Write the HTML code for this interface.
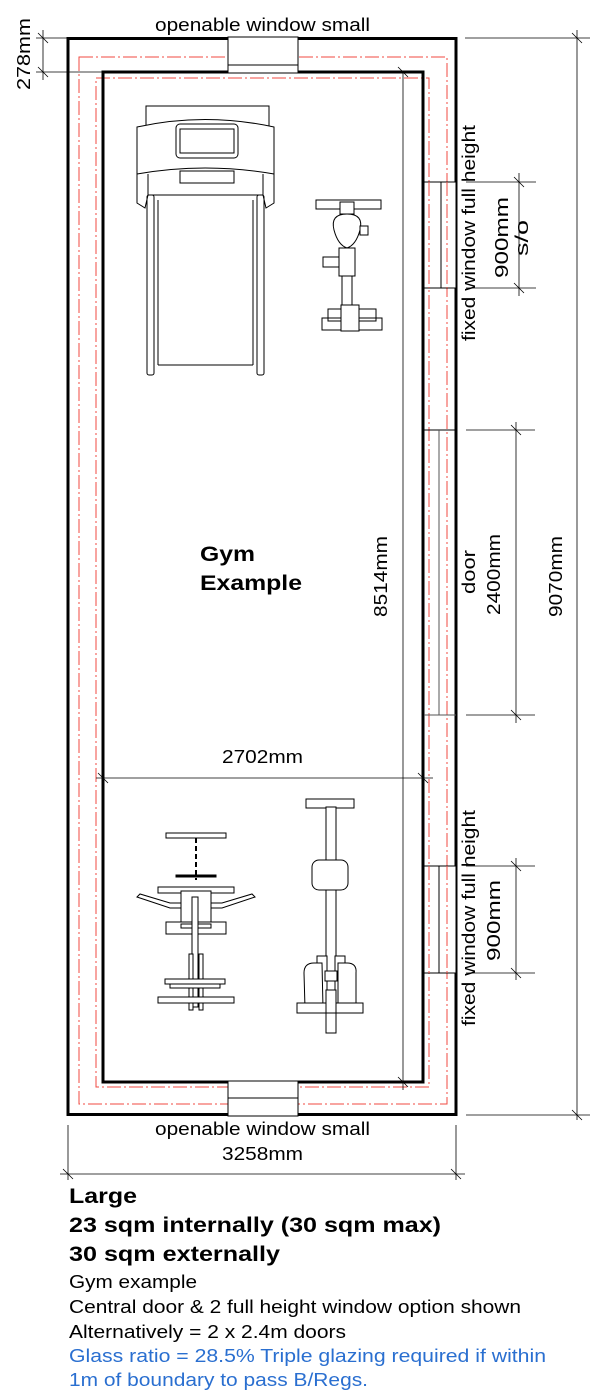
<!DOCTYPE html>
<html><head><meta charset="utf-8"><style>
html,body{margin:0;padding:0;background:#fff;}
svg{display:block;font-family:"Liberation Sans",Arial,sans-serif;}
</style></head><body>
<svg width="612" height="1396" viewBox="0 0 612 1396" xmlns="http://www.w3.org/2000/svg">
<rect width="612" height="1396" fill="#fff"/>
<g fill="none" stroke="#f04a42" stroke-width="1" stroke-dasharray="14,3,2,3">
<rect x="79" y="57" width="368" height="1047"/>
<rect x="96" y="78" width="333" height="1009"/>
</g>
<rect x="68" y="38.5" width="388" height="1076" fill="none" stroke="#000" stroke-width="3"/>
<rect x="103" y="72" width="320" height="1010" fill="none" stroke="#000" stroke-width="3"/>
<rect x="228" y="37" width="70" height="36" fill="#fff" stroke="#000" stroke-width="1"/>
<line x1="228" y1="65" x2="298" y2="65" stroke="#000"/>
<rect x="228" y="1081" width="70" height="35" fill="#fff" stroke="#000" stroke-width="1"/>
<line x1="228" y1="1098" x2="298" y2="1098" stroke="#000"/>
<rect x="424" y="182" width="32" height="106" fill="#fff" stroke="#000" stroke-width="1"/>
<line x1="441" y1="182" x2="441" y2="288" stroke="#000"/>
<line x1="429" y1="182" x2="429" y2="288" stroke="#f04a42" stroke-dasharray="14,3,2,3"/>
<line x1="447" y1="182" x2="447" y2="288" stroke="#f04a42" stroke-dasharray="14,3,2,3"/>
<rect x="424" y="866" width="32" height="107" fill="#fff" stroke="#000" stroke-width="1"/>
<line x1="439" y1="866" x2="439" y2="973" stroke="#000"/>
<line x1="429" y1="866" x2="429" y2="973" stroke="#f04a42" stroke-dasharray="14,3,2,3"/>
<line x1="447" y1="866" x2="447" y2="973" stroke="#f04a42" stroke-dasharray="14,3,2,3"/>
<line x1="424" y1="430" x2="456" y2="430" stroke="#000"/>
<line x1="424" y1="715" x2="456" y2="715" stroke="#555"/>
<line x1="439" y1="430" x2="439" y2="715" stroke="#555"/>
<g stroke="#000" stroke-width="0.8" fill="none">
<line x1="36" y1="38" x2="68" y2="38"/><line x1="36" y1="72" x2="103" y2="72"/>
<line x1="43" y1="30" x2="43" y2="80"/>
<line x1="38" y1="33" x2="48" y2="43"/><line x1="38" y1="67" x2="48" y2="77"/>
<line x1="465" y1="38" x2="590" y2="38"/><line x1="466" y1="1115" x2="590" y2="1115"/>
<line x1="577" y1="30" x2="577" y2="1120"/>
<line x1="572" y1="33" x2="582" y2="43"/><line x1="572" y1="1110" x2="582" y2="1120"/>
<line x1="466" y1="182" x2="536" y2="182"/><line x1="466" y1="288" x2="536" y2="288"/>
<line x1="519" y1="173" x2="519" y2="296"/>
<line x1="514" y1="177" x2="524" y2="187"/><line x1="514" y1="283" x2="524" y2="293"/>
<line x1="466" y1="430" x2="535" y2="430"/><line x1="466" y1="715" x2="535" y2="715"/>
<line x1="516" y1="422" x2="516" y2="723"/>
<line x1="511" y1="425" x2="521" y2="435"/><line x1="511" y1="710" x2="521" y2="720"/>
<line x1="466" y1="866" x2="535" y2="866"/><line x1="466" y1="973" x2="535" y2="973"/>
<line x1="516" y1="858" x2="516" y2="980"/>
<line x1="511" y1="861" x2="521" y2="871"/><line x1="511" y1="968" x2="521" y2="978"/>
<line x1="403" y1="72" x2="403" y2="1090"/>
<line x1="398" y1="67" x2="408" y2="77"/><line x1="398" y1="1077" x2="408" y2="1087"/>
<line x1="96" y1="778" x2="433" y2="778"/>
<line x1="98" y1="773" x2="108" y2="783"/><line x1="418" y1="773" x2="428" y2="783"/>
<line x1="68" y1="1125" x2="68" y2="1180"/><line x1="456" y1="1125" x2="456" y2="1180"/>
<line x1="60" y1="1174" x2="465" y2="1174"/>
<line x1="63" y1="1169" x2="73" y2="1179"/><line x1="451" y1="1169" x2="461" y2="1179"/>
</g>
<g stroke="#000" stroke-width="1" fill="none">
<rect x="146" y="106" width="123" height="20"/>
<path d="M137 127 Q205 112 274 127 L274 174 Q205 162 137 174 Z" fill="#fff"/>
<rect x="176" y="124" width="62" height="34" rx="4"/>
<rect x="180" y="129" width="54" height="24"/>
<rect x="180" y="171" width="54" height="12"/>
<path d="M137 174 L137 203 L145 208 L148 195 L148 174"/>
<path d="M274 174 L274 203 L266 208 L263 195 L263 174"/>
<line x1="148" y1="195" x2="263" y2="195"/>
<rect x="147" y="195" width="7" height="180" rx="2"/>
<rect x="257" y="195" width="7" height="180" rx="2"/>
<line x1="158" y1="200" x2="158" y2="365"/><line x1="253" y1="200" x2="253" y2="365"/>
<line x1="158" y1="365" x2="253" y2="365"/>
</g>
<g stroke="#000" stroke-width="1" fill="#fff">
<rect x="316" y="200" width="65" height="9"/>
<rect x="340" y="202" width="14" height="12"/>
<path d="M347 214 Q330 214 334 230 Q338 245 347 248 Q356 245 360 230 Q364 214 347 214Z"/>
<rect x="360" y="226" width="8" height="9"/>
<rect x="323" y="257" width="16" height="10"/>
<rect x="339" y="248" width="16" height="28"/>
<rect x="342" y="276" width="10" height="30" fill="none"/>
<rect x="322" y="318" width="60" height="12" fill="none"/>
<rect x="328" y="309" width="48" height="12" fill="none"/>
<rect x="341" y="305" width="18" height="26"/>
</g>
<g stroke="#000" stroke-width="1" fill="#fff">
<rect x="166" y="833" width="60" height="5"/>
<line x1="196" y1="838" x2="196" y2="880" stroke-dasharray="5,3" stroke-width="2"/>
<rect x="176" y="875" width="40" height="2" fill="#000"/>
<rect x="158" y="887" width="76" height="6"/>
<path d="M137 897 L140 894 L170 903 L222 903 L252 894 L255 897 L222 908 L170 908 Z"/>
<rect x="181" y="891" width="30" height="36"/>
<rect x="166" y="922" width="60" height="12"/>
<rect x="181" y="924" width="30" height="4"/>
<rect x="192" y="897" width="6" height="110"/>
<rect x="189" y="954" width="4" height="56"/><rect x="199" y="954" width="4" height="56"/>
<rect x="165" y="979" width="60" height="5"/>
<rect x="170" y="984" width="50" height="4"/>
<rect x="158" y="997" width="76" height="6"/>
</g>
<g stroke="#000" stroke-width="1" fill="#fff">
<rect x="306" y="799" width="48" height="9"/>
<rect x="326" y="807" width="10" height="226"/>
<rect x="312" y="860" width="36" height="30" rx="7"/>
<rect x="317" y="956" width="10" height="50"/><rect x="335" y="956" width="10" height="50"/>
<path d="M304 973 Q304 963 314 963 L322 963 L323 1008 L305 1008 Z"/>
<path d="M338 963 L347 963 Q357 963 356 973 L356 1008 L338 1008 Z"/>
<rect x="325" y="971" width="12" height="10"/>
<rect x="297" y="1003" width="66" height="10"/>
<rect x="326" y="990" width="10" height="23"/>
</g>
<g font-size="18" fill="#000" lengthAdjust="spacingAndGlyphs">
<text x="155" y="31" textLength="215" lengthAdjust="spacingAndGlyphs">openable window small</text>
<text x="155" y="1135" textLength="215" lengthAdjust="spacingAndGlyphs">openable window small</text>
<text x="222" y="1160" textLength="81" lengthAdjust="spacingAndGlyphs">3258mm</text>
<text x="222" y="763" textLength="81" lengthAdjust="spacingAndGlyphs">2702mm</text>
<text transform="translate(30,90) rotate(-90)" textLength="72" lengthAdjust="spacingAndGlyphs">278mm</text>
<text transform="translate(475,341) rotate(-90)" textLength="216" lengthAdjust="spacingAndGlyphs">fixed window full height</text>
<text transform="translate(508,278) rotate(-90)" textLength="81" lengthAdjust="spacingAndGlyphs">900mm</text>
<text transform="translate(528,256) rotate(-90)" textLength="36" lengthAdjust="spacingAndGlyphs">s/o</text>
<text transform="translate(475,594) rotate(-90)" textLength="44" lengthAdjust="spacingAndGlyphs">door</text>
<text transform="translate(500,615) rotate(-90)" textLength="81" lengthAdjust="spacingAndGlyphs">2400mm</text>
<text transform="translate(562,617) rotate(-90)" textLength="81" lengthAdjust="spacingAndGlyphs">9070mm</text>
<text transform="translate(387,617) rotate(-90)" textLength="81" lengthAdjust="spacingAndGlyphs">8514mm</text>
<text transform="translate(475,1026) rotate(-90)" textLength="216" lengthAdjust="spacingAndGlyphs">fixed window full height</text>
<text transform="translate(500,961) rotate(-90)" textLength="81" lengthAdjust="spacingAndGlyphs">900mm</text>
</g>
<g font-size="21" font-weight="bold" fill="#000">
<text x="200" y="561" textLength="55" lengthAdjust="spacingAndGlyphs">Gym</text>
<text x="200" y="590" textLength="102" lengthAdjust="spacingAndGlyphs">Example</text>
<text x="69" y="1203" textLength="68" lengthAdjust="spacingAndGlyphs">Large</text>
<text x="69" y="1232" textLength="372" lengthAdjust="spacingAndGlyphs">23 sqm internally (30 sqm max)</text>
<text x="69" y="1261" textLength="211" lengthAdjust="spacingAndGlyphs">30 sqm externally</text>
</g>
<g font-size="18" fill="#000">
<text x="69" y="1288" textLength="128" lengthAdjust="spacingAndGlyphs">Gym example</text>
<text x="69" y="1313" textLength="452" lengthAdjust="spacingAndGlyphs">Central door &amp; 2 full height window option shown</text>
<text x="69" y="1338" textLength="277" lengthAdjust="spacingAndGlyphs">Alternatively = 2 x 2.4m doors</text>
</g>
<g font-size="18" fill="#2a6fd0">
<text x="69" y="1362" textLength="477" lengthAdjust="spacingAndGlyphs">Glass ratio = 28.5%  Triple glazing required if within</text>
<text x="69" y="1386" textLength="299" lengthAdjust="spacingAndGlyphs">1m of boundary to pass B/Regs.</text>
</g>
</svg>
</body></html>
